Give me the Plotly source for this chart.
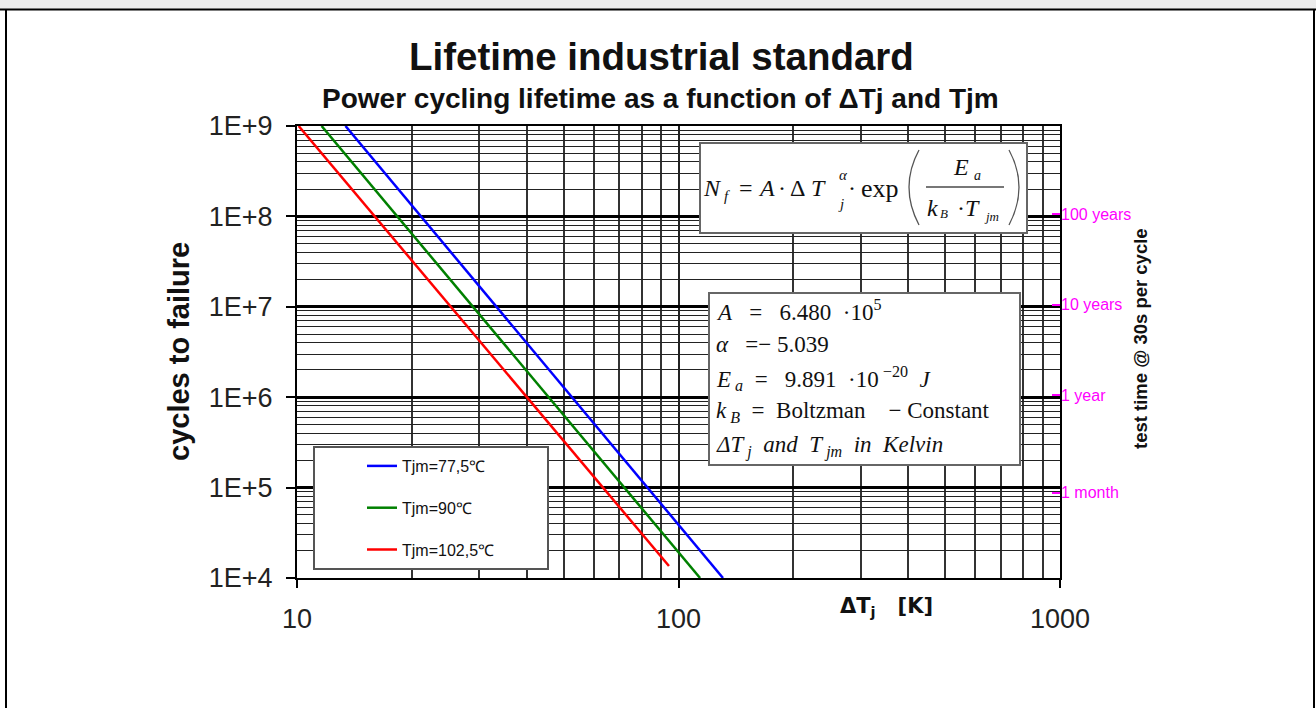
import plotly.graph_objects as go

# curve end points: delta Tj [K] -> cycles to failure
tjm_labels = ["Tjm=77,5℃", "Tjm=90℃", "Tjm=102,5℃"]
dtj_blue = [13.4, 130.8]
cycles_blue = [1e9, 1e4]
dtj_green = [11.6, 113.9]
cycles_green = [1e9, 1e4]
dtj_red = [10.1, 94.4]
cycles_red = [1e9, 1.36e4]

y_tickvals = [1e4, 1e5, 1e6, 1e7, 1e8, 1e9]
y_ticktext = ["1E+4", "1E+5", "1E+6", "1E+7", "1E+8", "1E+9"]
x_tickvals = [10, 100, 1000]
x_ticktext = ["10", "100", "1000"]
# right axis: test time at 30 s per cycle, expressed in cycles
time_tickvals = [1.05e8, 1.05e7, 1.05e6, 8.8e4]
time_ticktext = ["100 years", "10 years", "1 year", "1 month"]

W, H = 1316, 708
L, R, T, B = 297, 1060, 126, 578
SANS = "Liberation Sans, Arial, sans-serif"
SERIF = "Liberation Serif, Times New Roman, serif"


def px(x):
    return (x - L) / (R - L)


def py(y):
    return (B - y) / (B - T)


fig = go.Figure()

for name, xs, ys, color in [
    (tjm_labels[0], dtj_blue, cycles_blue, "#0000ff"),
    (tjm_labels[1], dtj_green, cycles_green, "#008000"),
    (tjm_labels[2], dtj_red, cycles_red, "#ff0000"),
]:
    fig.add_trace(
        go.Scatter(
            x=xs,
            y=ys,
            mode="lines",
            name=name,
            legendgroup=name,
            line={"color": color, "width": 2.5},
        )
    )

# keeps the right-hand axis alive
fig.add_trace(go.Scatter(x=[None], y=[None], yaxis="y2", showlegend=False, hoverinfo="skip"))


def note(text, x, y, size, family=SANS, color="#111", xanchor="center", **kw):
    fig.add_annotation(
        text=text,
        x=px(x),
        y=py(y),
        xref="paper",
        yref="paper",
        xanchor=xanchor,
        yanchor="middle",
        showarrow=False,
        font={"size": size, "family": family, "color": color},
        **kw,
    )


def box(x0, y0, x1, y1, line="#666", width=2):
    fig.add_shape(
        type="rect",
        xref="paper",
        yref="paper",
        x0=px(x0),
        x1=px(x1),
        y0=py(y0),
        y1=py(y1),
        fillcolor="white",
        line={"color": line, "width": width},
        layer="above",
    )


def seg(path, color="#555", width=1.5):
    fig.add_shape(
        type="path",
        xref="paper",
        yref="paper",
        path=path,
        line={"color": color, "width": width},
        layer="above",
    )


# page frame
fig.add_shape(type="rect", xref="paper", yref="paper", x0=px(0), x1=px(W), y0=py(0), y1=py(9),
              fillcolor="#ececec", line={"width": 0}, layer="above")
seg(f"M {px(0)},{py(9.5)} L {px(W)},{py(9.5)}", color="black", width=2)
seg(f"M {px(6)},{py(9)} L {px(6)},{py(H)}", color="black", width=2)
seg(f"M {px(1314)},{py(9)} L {px(1314)},{py(H)}", color="black", width=2)

# formula box: N_f = A * dTj^alpha * exp(Ea / (kB * Tjm))
box(700, 143, 1027, 233)
seg(f"M {px(919)},{py(150)} Q {px(899)},{py(187)} {px(919)},{py(225)}", width=1.3)
seg(f"M {px(1009)},{py(150)} Q {px(1029)},{py(187)} {px(1009)},{py(225)}", width=1.3)
seg(f"M {px(926)},{py(187)} L {px(1004)},{py(187)}", color="#777", width=2)
for txt, x, y, size in [
    ("<i>N</i>", 712, 188, 24),
    ("<i>f</i>", 727, 196, 15),
    ("=", 746, 188, 24),
    ("<i>A</i>", 766, 188, 24),
    ("·", 782, 188, 24),
    ("Δ", 797, 188, 24),
    ("<i>T</i>", 818, 188, 24),
    ("<i>α</i>", 843, 175, 15),
    ("<i>j</i>", 841, 204, 15),
    ("·", 852, 188, 24),
    ("exp", 880, 188, 26),
    ("<i>E</i>", 961, 167, 24),
    ("<i>a</i>", 977, 175, 14),
    ("<i>k</i>", 932, 208, 24),
    ("<i>B</i>", 944, 213, 13),
    ("·<i>T</i>", 968, 208, 24),
    ("<i>jm</i>", 991, 216, 13),
]:
    note(txt, x, y, size, SERIF)

# parameter box
box(709, 293, 1020, 465)
param_lines = [
    "<i>A</i>&nbsp;&nbsp; = &nbsp;&nbsp;6.480 &nbsp;·10<sup>5</sup>",
    "<i>α</i>&nbsp;&nbsp; =− 5.039",
    "<i>E</i><sub> <i>a</i></sub>&nbsp; = &nbsp;&nbsp;9.891 &nbsp;·10<sup> −20</sup>&nbsp; <i>J</i>",
    "<i>k</i><sub> <i>B</i></sub>&nbsp; = &nbsp;Boltzman &nbsp;&nbsp;&nbsp;− Constant",
    "<i>ΔT</i><sub> <i>j</i></sub>&nbsp; <i>and&nbsp; T</i><sub> <i>jm</i></sub>&nbsp; <i>in&nbsp; Kelvin</i>",
]
for i, txt in enumerate(param_lines):
    note(txt, 714, 310 + i * 34, 23, SERIF, xanchor="left")

# legend frame (legend itself drawn on top, transparent)
box(314, 447, 548, 569, line="#555")

# titles
note("<b>Lifetime industrial standard</b>", 661, 56, 38.5)
note("<b>Power cycling lifetime as a function of ΔTj and Tjm</b>", 660, 99, 28)
note("<b>cycles to failure</b>", 179, 352, 29, textangle=-90)
note("<b>test time @ 30s per cycle</b>", 1140, 339, 18.5, textangle=-90)
note("<b>ΔT<sub>j</sub>&nbsp;&nbsp; [K]</b>", 886, 607, 21, family="DejaVu Sans, Verdana, sans-serif")

fig.update_layout(
    width=W,
    height=H,
    margin={"l": L, "r": W - R, "t": T, "b": H - B, "pad": 0},
    paper_bgcolor="white",
    plot_bgcolor="white",
    showlegend=True,
    legend={
        "x": px(362),
        "y": py(449),
        "xanchor": "left",
        "yanchor": "top",
        "bgcolor": "rgba(0,0,0,0)",
        "borderwidth": 0,
        "tracegroupgap": 18,
        "font": {"size": 16, "family": SANS, "color": "#111"},
    },
    xaxis={
        "type": "log",
        "range": [1, 3],
        "tickvals": x_tickvals,
        "ticktext": x_ticktext,
        "ticks": "outside",
        "ticklen": 8,
        "tickwidth": 2,
        "tickcolor": "black",
        "ticklabelstandoff": 8,
        "tickfont": {"size": 27, "family": SANS, "color": "#222"},
        "showgrid": True,
        "gridcolor": "#222",
        "gridwidth": 2,
        "minor": {"dtick": "D1", "showgrid": True, "gridcolor": "#333", "gridwidth": 1.5},
        "showline": True,
        "linecolor": "black",
        "linewidth": 2,
        "mirror": True,
        "zeroline": False,
    },
    yaxis={
        "type": "log",
        "range": [4, 9],
        "tickvals": y_tickvals,
        "ticktext": y_ticktext,
        "ticks": "outside",
        "ticklen": 9,
        "tickwidth": 2,
        "tickcolor": "black",
        "ticklabelstandoff": 8,
        "tickfont": {"size": 27, "family": SANS, "color": "#222"},
        "showgrid": True,
        "gridcolor": "black",
        "gridwidth": 3,
        "minor": {"dtick": "D1", "showgrid": True, "gridcolor": "#222", "gridwidth": 1.3},
        "showline": True,
        "linecolor": "black",
        "linewidth": 2,
        "mirror": True,
        "zeroline": False,
    },
    yaxis2={
        "type": "log",
        "range": [4, 9],
        "overlaying": "y",
        "side": "right",
        "tickvals": time_tickvals,
        "ticktext": time_ticktext,
        "ticks": "inside",
        "ticklen": 8,
        "tickwidth": 2,
        "tickcolor": "#ff00ff",
        "tickfont": {"size": 16, "family": SANS, "color": "#ff00ff"},
        "showgrid": False,
        "showline": False,
        "zeroline": False,
    },
)

# drop the browser's default body margin so the figure sits at the page origin
fig.write_html(
    "out.html",
    config={"displayModeBar": False},
    post_script="document.body.style.margin = '0';",
)
